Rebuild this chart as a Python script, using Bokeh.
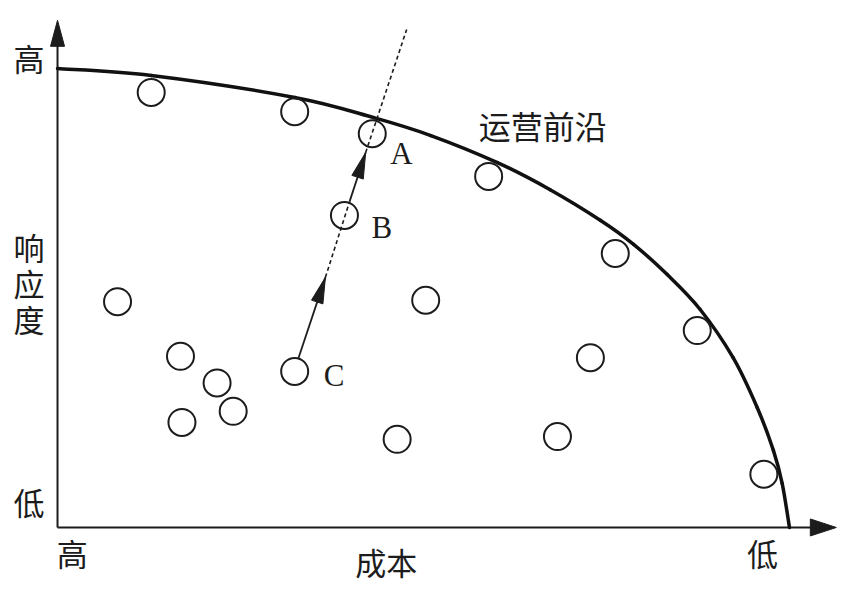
import math
from bokeh.plotting import figure
from bokeh.models import Range1d
from bokeh.core.properties import value
from bokeh.embed import file_html
from bokeh.resources import INLINE

# ---------------- data (cost axis: 0 = 高 ... 100 = 低; response: 0 = 低 ... 100 = 高)
frontier_cost = [0.0, 12.8, 32.4, 43.2, 51.0, 60.1, 67.3, 74.2, 78.7, 83.3, 87.8, 92.3, 95.6, 97.8, 99.0, 100.0]
frontier_resp = [100.0, 98.5, 93.7, 89.3, 85.4, 79.5, 73.6, 66.9, 61.7, 55.1, 47.5, 37.0, 26.1, 16.8, 9.6, 0.0]

circle_cost = [12.8, 32.4, 43.0, 58.9, 76.2, 87.4, 96.5, 39.2, 32.4, 8.2, 16.8, 21.8, 24.0, 17.0, 50.3, 72.8, 46.4, 68.3]
circle_resp = [94.8, 90.6, 85.8, 76.5, 59.7, 42.9, 11.6, 68.0, 34.0, 49.2, 37.3, 31.5, 25.3, 22.9, 49.5, 37.0, 19.2, 19.8]

# movement path C -> B -> A
arrow1_cost = [32.9, 36.6]
arrow1_resp = [36.8, 54.5]
dotted1_cost = [36.6, 39.9]
dotted1_resp = [54.5, 71.0]
arrow2_cost = [39.9, 42.1]
arrow2_resp = [71.0, 81.7]
dotted2_cost = [42.1, 47.7]
dotted2_resp = [81.7, 108.5]

point_labels = ["A", "B", "C"]
point_label_cost = [47.0, 44.3, 37.8]
point_label_resp = [81.5, 65.3, 33.1]

axis_end_cost = 106.4
axis_end_resp = 110.5

frontier_label = "运营前沿"
y_title = "响\n应\n度"
x_title = "成本"
high_label = "高"
low_label = "低"

# ---------------- figure
W, H = 846, 590
X0, X1 = -7.79, 107.79
Y0, Y1 = -13.73, 114.82
p = figure(width=W, height=H, x_range=Range1d(X0, X1), y_range=Range1d(Y0, Y1),
           output_backend="svg", toolbar_location=None, min_border=0,
           x_axis_type=None, y_axis_type=None)
p.grid.visible = False
p.outline_line_color = None
p.background_fill_color = "white"
p.border_fill_color = "white"

SX = W / (X1 - X0)
SY = H / (Y1 - Y0)
INK = "#1c1c1c"


def head(tail, tip, length, width):
    dx = (tip[0] - tail[0]) * SX
    dy = (tip[1] - tail[1]) * SY
    n = math.hypot(dx, dy)
    ux, uy = dx / n, dy / n
    bx, by = tip[0] * SX - ux * length, tip[1] * SY - uy * length
    px, py = -uy, ux
    xs = [tip[0], (bx + px * width / 2) / SX, (bx - px * width / 2) / SX]
    ys = [tip[1], (by + py * width / 2) / SY, (by - py * width / 2) / SY]
    return xs, ys


# axes
p.line([0, axis_end_cost - 1.0], [0, 0], line_color=INK, line_width=2)
p.line([0, 0], [0, axis_end_resp - 2.0], line_color=INK, line_width=2)
hx, hy = head((0, 0), (axis_end_cost, 0), 26, 17)
p.patch(hx, hy, fill_color=INK, line_color=INK, line_width=1)
hx, hy = head((0, 0), (0, axis_end_resp), 26, 14)
p.patch(hx, hy, fill_color=INK, line_color=INK, line_width=1)

# frontier: smooth curve through the read points (Catmull-Rom as Bezier segments)
n = len(frontier_cost)
x0s, y0s, x1s, y1s, cx0s, cy0s, cx1s, cy1s = ([] for _ in range(8))
for i in range(n - 1):
    im = max(i - 1, 0)
    ip2 = min(i + 2, n - 1)
    x0s.append(frontier_cost[i]); y0s.append(frontier_resp[i])
    x1s.append(frontier_cost[i + 1]); y1s.append(frontier_resp[i + 1])
    cx0s.append(frontier_cost[i] + (frontier_cost[i + 1] - frontier_cost[im]) / 6)
    cy0s.append(frontier_resp[i] + (frontier_resp[i + 1] - frontier_resp[im]) / 6)
    cx1s.append(frontier_cost[i + 1] - (frontier_cost[ip2] - frontier_cost[i]) / 6)
    cy1s.append(frontier_resp[i + 1] - (frontier_resp[ip2] - frontier_resp[i]) / 6)
p.bezier(x0=x0s, y0=y0s, x1=x1s, y1=y1s, cx0=cx0s, cy0=cy0s, cx1=cx1s, cy1=cy1s,
         line_color="#111111", line_width=3.5, line_cap="round")

# dotted paths
p.line(dotted1_cost, dotted1_resp, line_color=INK, line_width=1.6, line_dash="4 3")
p.line(dotted2_cost, dotted2_resp, line_color=INK, line_width=1.6, line_dash="4 3")

# arrows
for ac, ar in ((arrow1_cost, arrow1_resp), (arrow2_cost, arrow2_resp)):
    p.line(ac, ar, line_color=INK, line_width=1.8)
    hx, hy = head((ac[0], ar[0]), (ac[1], ar[1]), 26, 12)
    p.patch(hx, hy, fill_color=INK, line_color=INK, line_width=1)

# circles
p.scatter(circle_cost, circle_resp, marker="circle", size=27, fill_color=None,
          line_color=INK, line_width=2)

# texts
cjk = value("Noto Sans CJK SC")
common = dict(text_font=cjk, text_font_size="31px", text_align="center",
              text_baseline="middle", text_color=INK)
p.text([-3.9], [102.4], text=[high_label], **common)
p.text([-3.9], [5.7], text=[low_label], **common)
p.text([-3.9], [53.3], text=[y_title], text_line_height=0.8, **common)
p.text([2.0], [-5.5], text=[high_label], **common)
p.text([96.3], [-5.5], text=[low_label], **common)
p.text([44.9], [-7.4], text=[x_title], **common)
p.text([66.3], [87.8], text=[frontier_label], text_font=cjk, text_font_size="32px",
       text_align="center", text_baseline="middle", text_color=INK)
p.text(point_label_cost, point_label_resp, text=point_labels, text_font=value("Liberation Serif"),
       text_font_size="31px", text_align="center", text_baseline="middle", text_color=INK)

open("out.html", "w").write(file_html(p, INLINE))
